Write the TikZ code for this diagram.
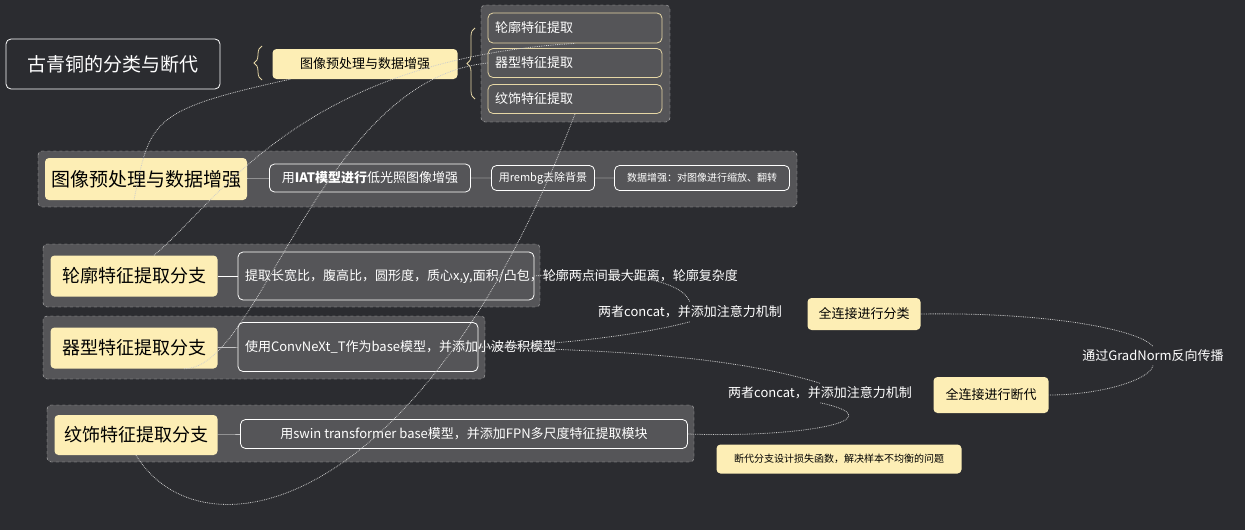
\documentclass[tikz,border=0pt]{standalone}
\usepackage{fontspec}
\setmainfont{Noto Sans CJK SC}
\usetikzlibrary{positioning,decorations.pathreplacing,calc}
\definecolor{bgcol}{HTML}{2B2C30}
\definecolor{panelcol}{HTML}{555558}
\definecolor{creamcol}{HTML}{FDEEB5}
\definecolor{rimcol}{HTML}{E6D7A6}
\tikzset{
    panel/.style={draw=white!75!black,dashed,fill=panelcol,rounded corners=4pt},
    mainbox/.style={fill=creamcol,rounded corners=4pt,text=black,inner sep=4pt},
    leafbox/.style={draw=white,thick,fill=panelcol,rounded corners=5pt,text=white,align=left},
    subbox/.style={draw=rimcol,thick,fill=panelcol,rounded corners=5pt,text=white},
    link/.style={white!80!black,densely dotted,thick},
    plain/.style={text=white},
    bracket/.style={rimcol,thick,decoration={brace,amplitude=8pt},decorate}
}
\begin{document}
\begin{tikzpicture}[x=1pt,y=-1pt,font=\fontsize{13}{16}\selectfont]
\fill[bgcol] (0,0) rectangle (1245,530);
\useasboundingbox (0,0) rectangle (1245,530);
% top row
\node[draw=white,thick,rounded corners=5pt,text=white,minimum width=214,minimum height=50,font=\fontsize{19}{22}\selectfont] (root) at (113,64) {古青铜的分类与断代};
\draw[bracket] (262,80) -- (262,46);
\node[mainbox,minimum width=185,minimum height=30] (pre) at (365,64) {图像预处理与数据增强};
\draw[bracket] (475,99) -- (475,28);
\draw[panel] (481,5) rectangle (670,122);
\node[subbox,minimum width=174,minimum height=30,text width=160] (lk) at (575,28) {轮廓特征提取};
\node[subbox,minimum width=174,minimum height=29,text width=160] (qx) at (575,63) {器型特征提取};
\node[subbox,minimum width=174,minimum height=29,text width=160] (ws) at (575,99) {纹饰特征提取};
% preprocessing
\draw[panel] (38,151) rectangle (797,207);
\node[mainbox,minimum width=202,minimum height=42,font=\fontsize{19}{22}\selectfont] (prem) at (146,179) {图像预处理与数据增强};
\node[leafbox,minimum width=201,minimum height=28] (iat) at (370,178) {用\textbf{IAT模型进行}低光照图像增强};
\node[leafbox,minimum width=103,minimum height=25,font=\fontsize{11}{13}\selectfont] (rembg) at (543,178) {用rembg去除背景};
\node[leafbox,minimum width=175,minimum height=25,font=\fontsize{10}{12}\selectfont] (aug) at (702,178) {数据增强：对图像进行缩放、翻转};
\draw[white] (prem) -- (iat) (iat) -- (rembg) (rembg) -- (aug);
% contour
\draw[panel] (43,244) rectangle (540,307);
\node[mainbox,minimum width=167,minimum height=41,font=\fontsize{18}{22}\selectfont] (lkm) at (134,276) {轮廓特征提取分支};
\node[leafbox,minimum width=296,minimum height=48,text width=282] (lkb) at (386,276) {提取长宽比，腹高比，圆形度，质心x,y,面积/凸包，轮廓两点间最大距离，轮廓复杂度};
\draw[white] (lkm) -- (lkb);
% shape
\draw[panel] (43,316) rectangle (485,379);
\node[mainbox,minimum width=167,minimum height=41,font=\fontsize{18}{22}\selectfont] (qxm) at (134,348) {器型特征提取分支};
\node[leafbox,minimum width=240,minimum height=49,text width=226] (qxb) at (358,347) {使用ConvNeXt\_T作为base模型，并添加小波卷积模型};
\draw[white] (qxm) -- (qxb);
% decoration
\draw[panel] (47,405) rectangle (694,462);
\node[mainbox,minimum width=163,minimum height=40,font=\fontsize{18}{22}\selectfont] (wsm) at (136,435) {纹饰特征提取分支};
\node[leafbox,minimum width=447,minimum height=29] (wsb) at (464,434) {用swin transformer base模型，并添加FPN多尺度特征提取模块};
\draw[white] (wsm) -- (wsb);
% fusion
\node[plain] (cat1) at (690,312) {两者concat，并添加注意力机制};
\node[mainbox,minimum width=113,minimum height=32] (fc1) at (864,314) {全连接进行分类};
\node[plain] (grad) at (1153,356) {通过GradNorm反向传播};
\node[plain] (cat2) at (820,393) {两者concat，并添加注意力机制};
\node[mainbox,minimum width=115,minimum height=36] (fc2) at (991,395) {全连接进行断代};
\node[mainbox,minimum width=245,minimum height=29,font=\fontsize{10}{12}\selectfont] (note) at (839,459) {断代分支设计损失函数，解决样本不均衡的问题};
% relations
\draw[link] ($(pre.south west)+(18,0)$) .. controls (150,110) and (150,120) .. (prem.south -| lkm.north);
\draw[link] ($(lkm.north)+(20,0)$) .. controls (220,200) and (300,60) .. (lk.south);
\draw[link] ($(qxm.south)+(50,0)$) .. controls (260,370) and (320,80) .. (qx.west);
\draw[link] (wsm.south) .. controls (200,560) and (420,520) .. (ws.south);
\draw[link] (lkb.east) .. controls (600,270) and (680,275) .. (cat1.north);
\draw[link] (qxb.east) .. controls (560,345) and (640,335) .. (cat1.south);
\draw[link] (qxb.east) .. controls (600,350) and (730,355) .. (cat2.north);
\draw[link] (wsb.east) .. controls (800,438) and (900,420) .. (cat2.south);
\draw[link] (fc1.east) .. controls (1050,312) and (1140,330) .. (grad.north);
\draw[link] (grad.south) .. controls (1150,380) and (1100,395) .. (fc2.east);
\end{tikzpicture}
\end{document}
